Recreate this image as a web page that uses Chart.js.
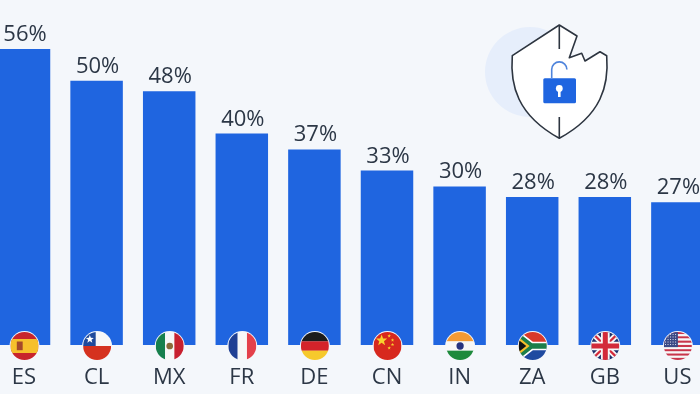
<!DOCTYPE html>
<html>
<head>
<meta charset="utf-8">
<script src="https://cdn.jsdelivr.net/npm/chart.js@4"></script>
<style>
  html, body { margin: 0; padding: 0; width: 700px; height: 394px; overflow: hidden; background: #f4f7fb; }
  #wrap { position: absolute; left: 0; top: 0; width: 700px; height: 394px; overflow: hidden; }
  /* the first and last bars run off the picture, so the canvas is wider than the window */
  #chart { position: absolute; left: -20px; top: 0; }
</style>
</head>
<body>
<div id="wrap"><canvas id="chart" width="760" height="394"></canvas></div>
<script>
const countries = ['ES', 'CL', 'MX', 'FR', 'DE', 'CN', 'IN', 'ZA', 'GB', 'US'];
const shares = [56, 50, 48, 40, 37, 33, 30, 28, 28, 27];

const textColor = '#2c3746';
const barColor = '#1f65e0';
const fontName = '"Open Sans", "Noto Sans", sans-serif';

function stripesH(ctx, colors) {
    const h = 2 / colors.length;
    colors.forEach((c, i) => {
        ctx.fillStyle = c;
        ctx.fillRect(-1, -1 + i * h, 2, h + 0.01);
    });
}

function stripesV(ctx, colors) {
    const w = 2 / colors.length;
    colors.forEach((c, i) => {
        ctx.fillStyle = c;
        ctx.fillRect(-1 + i * w, -1, w + 0.01, 2);
    });
}

function star(ctx, x, y, r, color) {
    ctx.fillStyle = color;
    ctx.beginPath();
    for (let i = 0; i < 10; i++) {
        const a = -Math.PI / 2 + i * Math.PI / 5;
        const d = i % 2 ? r * 0.42 : r;
        ctx.lineTo(x + Math.cos(a) * d, y + Math.sin(a) * d);
    }
    ctx.closePath();
    ctx.fill();
}

function line(ctx, color, width, x1, y1, x2, y2) {
    ctx.strokeStyle = color;
    ctx.lineWidth = width;
    ctx.beginPath();
    ctx.moveTo(x1, y1);
    ctx.lineTo(x2, y2);
    ctx.stroke();
}

// every flag is drawn in a -1..1 box and clipped to a circle
const flags = {
    ES(ctx) {
        ctx.fillStyle = '#c8252c';
        ctx.fillRect(-1, -1, 2, 2);
        ctx.fillStyle = '#f6c02c';
        ctx.fillRect(-1, -0.5, 2, 1);
        ctx.fillStyle = '#a5482a';
        ctx.fillRect(-0.55, -0.32, 0.42, 0.62);
    },
    CL(ctx) {
        stripesH(ctx, ['#f7f7f7', '#d5321f']);
        ctx.fillStyle = '#1f4a9c';
        ctx.fillRect(-1, -1, 0.9, 1);
        star(ctx, -0.52, -0.48, 0.3, '#ffffff');
    },
    MX(ctx) {
        stripesV(ctx, ['#17804d', '#f7f7f7', '#c8202f']);
        ctx.fillStyle = '#8a6a3a';
        ctx.beginPath();
        ctx.arc(0, 0, 0.24, 0, Math.PI * 2);
        ctx.fill();
    },
    FR(ctx) {
        stripesV(ctx, ['#1f3f94', '#f7f7f7', '#e4404a']);
    },
    DE(ctx) {
        stripesH(ctx, ['#1c1c1c', '#d3232a', '#f6c92c']);
    },
    CN(ctx) {
        ctx.fillStyle = '#d7281e';
        ctx.fillRect(-1, -1, 2, 2);
        star(ctx, -0.42, -0.4, 0.42, '#f8d12e');
        star(ctx, 0.12, -0.72, 0.13, '#f8d12e');
        star(ctx, 0.36, -0.42, 0.13, '#f8d12e');
        star(ctx, 0.36, -0.1, 0.13, '#f8d12e');
        star(ctx, 0.12, 0.14, 0.13, '#f8d12e');
    },
    IN(ctx) {
        stripesH(ctx, ['#f39a34', '#f7f7f7', '#1d8a3c']);
        ctx.fillStyle = '#27337f';
        ctx.beginPath();
        ctx.arc(0, 0, 0.26, 0, Math.PI * 2);
        ctx.fill();
    },
    ZA(ctx) {
        stripesH(ctx, ['#d8392b', '#1f4aa0']);
        ctx.strokeStyle = '#ffffff';
        ctx.lineWidth = 0.62;
        ctx.beginPath();
        ctx.moveTo(-1.2, -0.85);
        ctx.lineTo(-0.1, 0);
        ctx.lineTo(-1.2, 0.85);
        ctx.moveTo(-0.1, 0);
        ctx.lineTo(1.1, 0);
        ctx.stroke();
        ctx.strokeStyle = '#1c7f4a';
        ctx.lineWidth = 0.38;
        ctx.stroke();
        ctx.fillStyle = '#f6c02c';
        ctx.beginPath();
        ctx.moveTo(-1, -0.62);
        ctx.lineTo(-0.22, 0);
        ctx.lineTo(-1, 0.62);
        ctx.fill();
        ctx.fillStyle = '#141414';
        ctx.beginPath();
        ctx.moveTo(-1, -0.42);
        ctx.lineTo(-0.46, 0);
        ctx.lineTo(-1, 0.42);
        ctx.fill();
    },
    GB(ctx) {
        ctx.fillStyle = '#1d2f6b';
        ctx.fillRect(-1, -1, 2, 2);
        line(ctx, '#f7f7f7', 0.42, -1, -1, 1, 1);
        line(ctx, '#f7f7f7', 0.42, -1, 1, 1, -1);
        line(ctx, '#d32a3a', 0.16, -1, -1, 1, 1);
        line(ctx, '#d32a3a', 0.16, -1, 1, 1, -1);
        line(ctx, '#f7f7f7', 0.62, 0, -1, 0, 1);
        line(ctx, '#f7f7f7', 0.62, -1, 0, 1, 0);
        line(ctx, '#d32a3a', 0.36, 0, -1, 0, 1);
        line(ctx, '#d32a3a', 0.36, -1, 0, 1, 0);
    },
    US(ctx) {
        const stripes = [];
        for (let i = 0; i < 13; i++) stripes.push(i % 2 ? '#f7f7f7' : '#c8354a');
        stripesH(ctx, stripes);
        ctx.fillStyle = '#3c4a86';
        ctx.fillRect(-1, -1, 1, 1.08);
        ctx.fillStyle = '#dfe3ee';
        for (let i = 0; i < 5; i++) {
            for (let j = 0; j < 5; j++) {
                ctx.fillRect(-0.92 + j * 0.18, -0.86 + i * 0.18, 0.07, 0.07);
            }
        }
    }
};

const barLabels = {
    id: 'barLabels',
    afterDatasetsDraw(chart) {
        const ctx = chart.ctx;
        ctx.save();
        ctx.font = '22px ' + fontName;
        ctx.fillStyle = textColor;
        ctx.textAlign = 'center';
        ctx.textBaseline = 'alphabetic';
        chart.getDatasetMeta(0).data.forEach((bar, i) => {
            ctx.fillText(shares[i] + '%', bar.x + 1, bar.y - 8);
        });
        ctx.restore();
    }
};

const flagBadges = {
    id: 'flagBadges',
    afterDatasetsDraw(chart) {
        const ctx = chart.ctx;
        const baseY = chart.scales.y.getPixelForValue(0) + 1;
        ctx.save();
        countries.forEach((code, i) => {
            const x = chart.scales.x.getPixelForValue(i) + 0.5;
            ctx.fillStyle = '#f4f7fb';
            ctx.beginPath();
            ctx.arc(x, baseY, 15, 0, Math.PI * 2);
            ctx.fill();
            ctx.save();
            ctx.beginPath();
            ctx.arc(x, baseY, 14, 0, Math.PI * 2);
            ctx.clip();
            ctx.translate(x, baseY);
            ctx.scale(14, 14);
            flags[code](ctx);
            ctx.restore();
        });
        ctx.restore();
    }
};

// shield in the top right corner, the coordinates are the canvas' own (window x + 20)
const shieldIcon = {
    id: 'shieldIcon',
    beforeDraw(chart) {
        const ctx = chart.ctx;
        ctx.save();
        ctx.translate(20, 0);
        ctx.fillStyle = '#e6eefb';
        ctx.beginPath();
        ctx.arc(530, 72, 45, 0, Math.PI * 2);
        ctx.fill();

        ctx.beginPath();
        ctx.moveTo(559.3, 25);
        ctx.lineTo(577, 36);
        ctx.lineTo(569.3, 57.7);
        ctx.lineTo(581.7, 53.3);
        ctx.lineTo(585, 61);
        ctx.lineTo(600, 51.7);
        ctx.lineTo(606.7, 55.7);
        ctx.bezierCurveTo(609, 85, 602, 115, 559.3, 138.3);
        ctx.bezierCurveTo(517, 115, 510, 85, 512.3, 55.7);
        ctx.closePath();
        ctx.fillStyle = '#ffffff';
        ctx.fill();
        ctx.strokeStyle = '#2d3540';
        ctx.lineWidth = 1.6;
        ctx.lineJoin = 'round';
        ctx.stroke();
        line(ctx, '#2d3540', 1.6, 559.3, 25, 559.3, 49);
        line(ctx, '#2d3540', 1.6, 559.3, 117, 559.3, 138);

        // open padlock
        ctx.strokeStyle = '#4f84dc';
        ctx.lineWidth = 1.6;
        ctx.beginPath();
        ctx.moveTo(551.7, 78);
        ctx.lineTo(551.7, 69.5);
        ctx.arc(559.3, 69.5, 7.6, Math.PI, 0);
        ctx.stroke();
        ctx.fillStyle = barColor;
        ctx.beginPath();
        ctx.roundRect(543.3, 78.3, 32.7, 25, 1.5);
        ctx.fill();
        ctx.fillStyle = '#ffffff';
        ctx.beginPath();
        ctx.arc(559.3, 88.5, 3.4, 0, Math.PI * 2);
        ctx.fill();
        ctx.fillRect(558, 89, 2.6, 8);
        ctx.restore();
    }
};

new Chart(document.getElementById('chart'), {
    type: 'bar',
    data: {
        labels: countries,
        datasets: [{
            data: shares,
            backgroundColor: barColor,
            borderWidth: 0,
            categoryPercentage: 1,
            barPercentage: 0.723
        }]
    },
    plugins: [shieldIcon, barLabels, flagBadges],
    options: {
        responsive: false,
        animation: false,
        layout: { padding: { left: 7.7, right: 26.3, top: 27.8, bottom: 0 } },
        plugins: { legend: { display: false }, tooltip: { enabled: false } },
        scales: {
            x: {
                grid: { display: false },
                border: { display: false },
                afterFit(scale) { scale.height = 49; },
                ticks: {
                    autoSkip: false,
                    maxRotation: 0,
                    padding: 12,
                    color: textColor,
                    font: { family: fontName, size: 22 }
                }
            },
            y: { display: false, min: 0, max: 60 }
        }
    }
});
</script>
</body>
</html>
